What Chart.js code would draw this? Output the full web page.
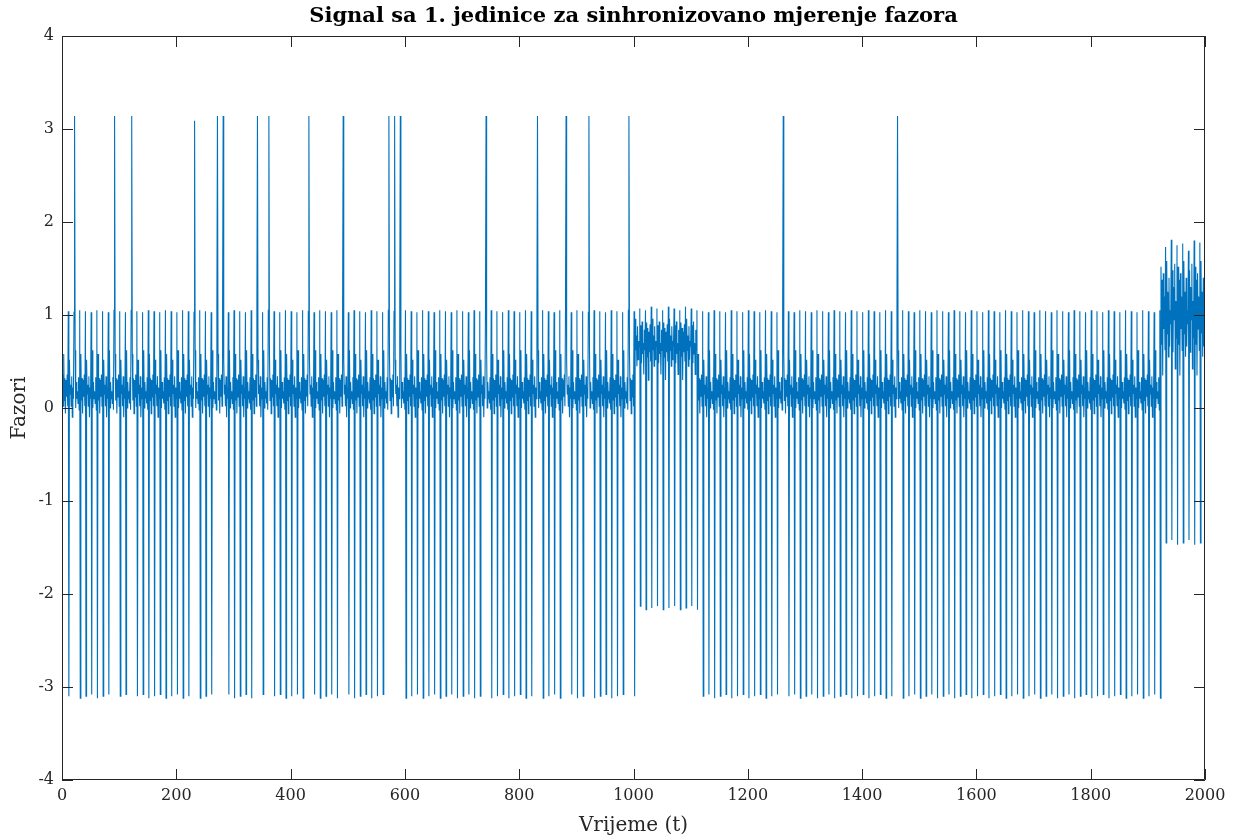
<!DOCTYPE html>
<html>
<head>
<meta charset="utf-8">
<script src="https://cdn.jsdelivr.net/npm/chart.js@4.4.1/dist/chart.umd.min.js"></script>
<style>
  html, body { margin: 0; padding: 0; background: #fff; }
  #wrap { width: 1238px; height: 840px; }
</style>
</head>
<body>
<div id="wrap"><canvas id="signal" width="1238" height="840"></canvas></div>
<script>
// wrap events (one every 10 samples)
const eventTimes = [
  12, 22, 32, 42, 52, 62, 72, 82, 92,
  102, 112, 122, 132, 142, 152, 162, 172, 182, 192,
  202, 212, 222, 232, 242, 252, 262, 272, 282, 292,
  302, 312, 322, 332, 342, 352, 362, 372, 382, 392,
  402, 412, 422, 432, 442, 452, 462, 472, 482, 492,
  502, 512, 522, 532, 542, 552, 562, 572, 582, 592,
  602, 612, 622, 632, 642, 652, 662, 672, 682, 692,
  702, 712, 722, 732, 742, 752, 762, 772, 782, 792,
  802, 812, 822, 832, 842, 852, 862, 872, 882, 892,
  902, 912, 922, 932, 942, 952, 962, 972, 982, 992,
  1002, 1012, 1022, 1032, 1042, 1052, 1062, 1072, 1082, 1092,
  1102, 1112, 1122, 1132, 1142, 1152, 1162, 1172, 1182, 1192,
  1202, 1212, 1222, 1232, 1242, 1252, 1262, 1272, 1282, 1292,
  1302, 1312, 1322, 1332, 1342, 1352, 1362, 1372, 1382, 1392,
  1402, 1412, 1422, 1432, 1442, 1452, 1462, 1472, 1482, 1492,
  1502, 1512, 1522, 1532, 1542, 1552, 1562, 1572, 1582, 1592,
  1602, 1612, 1622, 1632, 1642, 1652, 1662, 1672, 1682, 1692,
  1702, 1712, 1722, 1732, 1742, 1752, 1762, 1772, 1782, 1792,
  1802, 1812, 1822, 1832, 1842, 1852, 1862, 1872, 1882, 1892,
  1902, 1912, 1922, 1932, 1942, 1952, 1962, 1972, 1982, 1992
];

// events that jump up to +pi instead of down
const upSpikeTimes  = [22, 92, 122, 232, 272, 282, 342, 362, 432, 492, 572, 582, 592, 742, 832, 882, 922, 992, 1262, 1462];
const upSpikeValues = [3.14, 3.14, 3.14, 3.09, 3.14, 3.14, 3.14, 3.14, 3.14, 3.14, 3.14, 3.14, 3.14, 3.14, 3.14, 3.14, 3.14, 3.14, 3.14, 3.14];

// level segments (start sample, bottom of the drops)
const segmentStarts = [1, 1003, 1113, 1923];
const lowsNormal = [-3.10, -3.08, -3.12];
const lowsHigh   = [-2.15, -2.13, -2.17];
const lowsEnd    = [-1.45, -1.42, -1.47];
const segmentLows = [lowsNormal, lowsHigh, lowsNormal, lowsEnd];

// top of each cycle, just before the drop
const peaksNormal = [1.04, 1.03, 1.05];
const peaksHigh   = [1.07, 1.05, 1.09];
const peaksEnd    = [1.73, 1.81, 1.75, 1.77, 1.69, 1.80, 1.78];
const segmentPeaks = [peaksNormal, peaksHigh, peaksNormal, peaksEnd];

// samples between two drops
const bandsNormal = [
  [0.58, 0.08, 0.32, -0.06, 0.30, 0.12, 0.36, 0.02],
  [0.52, 0.15, 0.25, 0.02, 0.34, -0.10, 0.22, 0.10],
  [0.62, 0.00, 0.28, 0.10, 0.18, 0.05, 0.33, -0.02],
];
const bandsHigh = [
  [0.92, 0.55, 0.86, 0.30, 0.82, 0.60, 0.90, 0.50],
  [0.96, 0.62, 0.78, 0.45, 0.88, 0.52, 0.72, 0.66],
  [0.89, 0.48, 0.93, 0.58, 0.70, 0.36, 0.84, 0.62],
];
const bandsEnd = [
  [1.52, 0.68, 1.38, 0.35, 1.45, 0.85, 1.20, 0.62],
  [1.58, 0.80, 1.25, 0.55, 1.40, 0.66, 1.05, 0.90],
  [1.48, 0.60, 1.30, 0.95, 1.55, 0.42, 1.15, 0.75],
];
const segmentBands = [bandsNormal, bandsHigh, bandsNormal, bandsEnd];

const xTicks = [0, 200, 400, 600, 800, 1000, 1200, 1400, 1600, 1800, 2000];
const yTicks = [-4, -3, -2, -1, 0, 1, 2, 3, 4];

function segmentOf(t) {
  let s = 0;
  for (let i = 0; i < segmentStarts.length; i++) {
    if (t >= segmentStarts[i]) s = i;
  }
  return s;
}

const isEvent = new Set(eventTimes);
const points = [];
let prevEvent = 2;
let cycle = 0;
let peakCount = [0, 0, 0, 0];
for (let t = 1; t <= 2000; t++) {
  const seg = segmentOf(t);
  let y;
  if (isEvent.has(t)) {
    const u = upSpikeTimes.indexOf(t);
    const lows = segmentLows[seg];
    y = u >= 0 ? upSpikeValues[u] : lows[cycle % lows.length];
    prevEvent = t;
    cycle++;
  } else if (isEvent.has(t + 1)) {
    const peaks = segmentPeaks[seg];
    y = peaks[peakCount[seg] % peaks.length];
    peakCount[seg]++;
  } else {
    const bands = segmentBands[seg];
    const band = bands[cycle % bands.length];
    const k = (((t - prevEvent - 1) % band.length) + band.length) % band.length;
    y = band[k];
  }
  points.push({ x: t, y: y });
}

const axisColor = "#262626";
const serif = "'DejaVu Serif', 'Liberation Serif', serif";

// MATLAB style box with inward ticks plus title and axis labels
const matlabBox = {
  id: "matlabBox",
  afterDraw(chart) {
    const ctx = chart.ctx;
    const a = chart.chartArea;
    const xs = chart.scales.x;
    const ys = chart.scales.y;
    const tl = 11;
    ctx.save();
    ctx.strokeStyle = axisColor;
    ctx.lineWidth = 1;
    ctx.beginPath();
    ctx.rect(a.left + 0.5, a.top + 0.5, a.right - a.left - 1, a.bottom - a.top - 1);
    xTicks.forEach(v => {
      const px = Math.round(xs.getPixelForValue(v)) + 0.5;
      ctx.moveTo(px, a.bottom); ctx.lineTo(px, a.bottom - tl);
      ctx.moveTo(px, a.top); ctx.lineTo(px, a.top + tl);
    });
    yTicks.forEach(v => {
      const py = Math.round(ys.getPixelForValue(v)) + 0.5;
      ctx.moveTo(a.left, py); ctx.lineTo(a.left + tl, py);
      ctx.moveTo(a.right, py); ctx.lineTo(a.right - tl, py);
    });
    ctx.stroke();

    ctx.fillStyle = "#000";
    ctx.textAlign = "center";
    ctx.textBaseline = "middle";
    ctx.font = "bold 21px " + serif;
    ctx.fillText("Signal sa 1. jedinice za sinhronizovano mjerenje fazora", (a.left + a.right) / 2, 17);

    ctx.fillStyle = axisColor;
    ctx.font = "20px " + serif;
    ctx.fillText("Vrijeme (t)", (a.left + a.right) / 2, 826);
    ctx.translate(20, (a.top + a.bottom) / 2);
    ctx.rotate(-Math.PI / 2);
    ctx.fillText("Fazori", 0, 0);
    ctx.restore();
  }
};

const ctx = document.getElementById("signal");

new Chart(ctx, {
  type: "line",
  data: {
    datasets: [
      {
        label: "Faza",
        data: points,
        borderColor: "#0072BD",
        borderWidth: 1.1,
        pointRadius: 0,
        tension: 0,
        fill: false,
      },
    ],
  },
  options: {
    responsive: false,
    animation: false,
    events: [],
    layout: { padding: { left: 0, right: 33, top: 36, bottom: 0 } },
    plugins: {
      legend: { display: false },
      tooltip: { enabled: false },
      title: { display: false },
    },
    scales: {
      x: {
        type: "linear",
        min: 0,
        max: 2000,
        afterFit(scale) { scale.height = 60; },
        afterBuildTicks(scale) { scale.ticks = xTicks.map(v => ({ value: v })); },
        grid: { display: false, drawTicks: false },
        border: { display: false },
        ticks: {
          padding: 6,
          color: axisColor,
          font: { family: serif, size: 16 },
          callback: v => String(v),
        },
      },
      y: {
        min: -4,
        max: 4,
        afterFit(scale) { scale.width = 62; },
        afterBuildTicks(scale) { scale.ticks = yTicks.map(v => ({ value: v })); },
        grid: { display: false, drawTicks: false },
        border: { display: false },
        ticks: {
          padding: 8,
          color: axisColor,
          font: { family: serif, size: 16 },
          callback: v => String(v),
        },
      },
    },
  },
  plugins: [matlabBox],
});
</script>
</body>
</html>
